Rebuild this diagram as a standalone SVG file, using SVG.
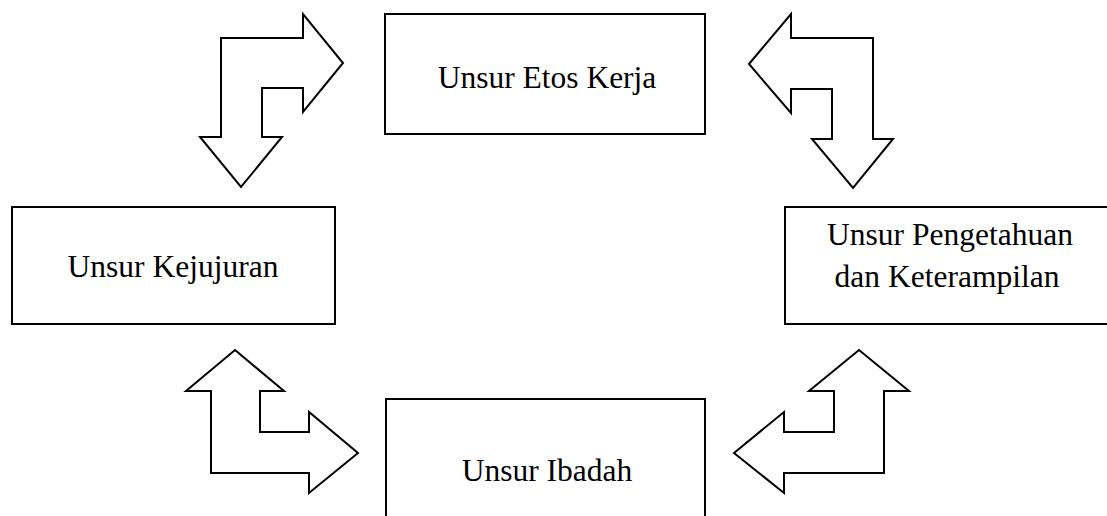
<svg xmlns="http://www.w3.org/2000/svg" width="1107" height="516" viewBox="0 0 1107 516">
<style>
.box{fill:#fff;stroke:#000;stroke-width:2}
.arr{fill:#fff;stroke:#000;stroke-width:2;stroke-linejoin:miter}
.lbl{font-family:"Liberation Serif","Times New Roman",serif;font-size:31.5px;fill:#000;text-anchor:middle}
</style>
<rect width="1107" height="516" fill="#fff"/>
<g id="connectors">
<polygon class="arr" points="221,38 303,38 303,14 343,63 303,112 303,88 262,88 262,137 282,137 241,187 200,137 221,137"/>
<polygon class="arr" points="749,64 791,14 791,38 873,38 873,139 893,139 853,188 812,139 832,139 832,89 791,89 791,113"/>
<polygon class="arr" points="235,350 284,391 260,391 260,432 309,432 309,412 358,453 309,493 309,473 211,473 211,391 186,391"/>
<polygon class="arr" points="859,350 909,391 884,391 884,473 784,473 784,493 734,453 784,412 784,432 834,432 834,391 809,391"/>
</g>
<g id="etos">
<rect class="box" x="385" y="14" width="320" height="120"/>
<text class="lbl" x="547" y="88">Unsur Etos Kerja</text>
</g>
<g id="kejujuran">
<rect class="box" x="12" y="207" width="323" height="117"/>
<text class="lbl" x="173" y="277">Unsur Kejujuran</text>
</g>
<g id="pengetahuan">
<rect class="box" x="785" y="207" width="340" height="117"/>
<text class="lbl" x="950" y="245">Unsur Pengetahuan</text>
<text class="lbl" x="947" y="287">dan Keterampilan</text>
</g>
<g id="ibadah">
<rect class="box" x="386" y="399" width="319" height="140"/>
<text class="lbl" x="547" y="481">Unsur Ibadah</text>
</g>
</svg>
